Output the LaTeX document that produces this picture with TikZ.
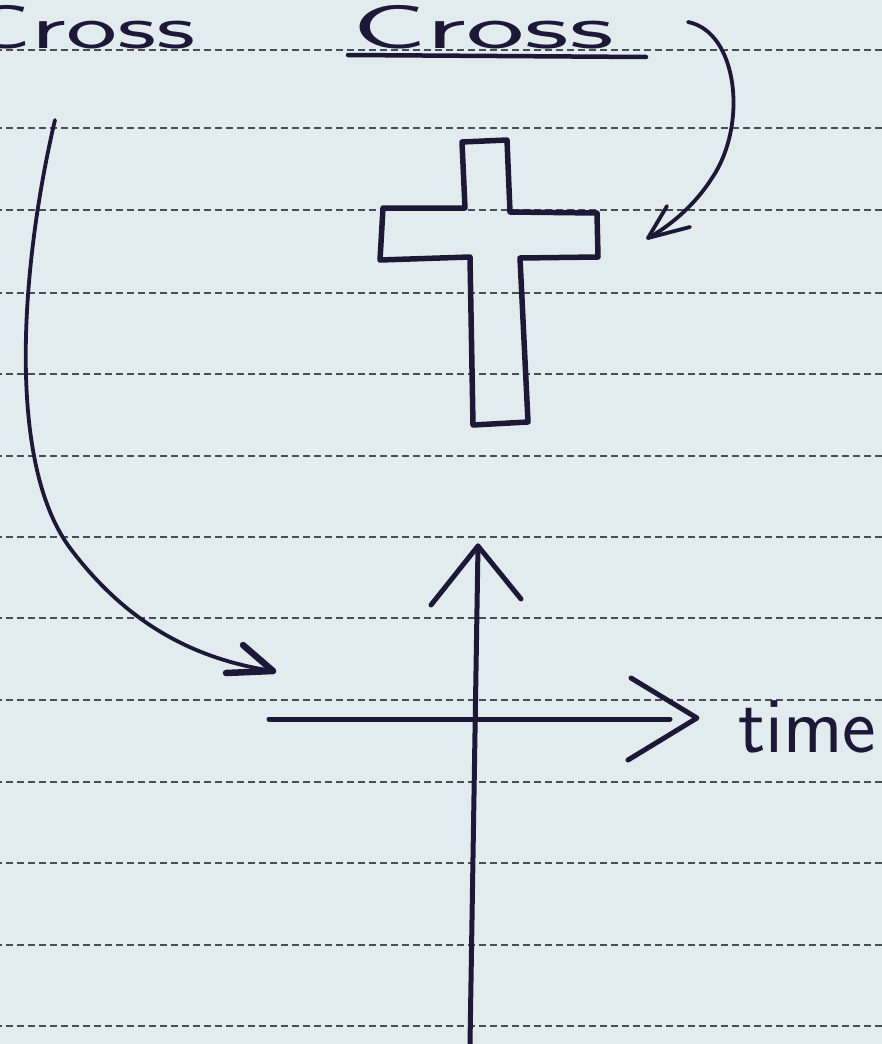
\documentclass[tikz,border=0pt]{standalone}
\definecolor{paper}{RGB}{226,236,238}
\definecolor{ink}{RGB}{30,24,56}
\definecolor{rulegray}{RGB}{70,78,90}
\begin{document}
\begin{tikzpicture}[x=1pt,y=-1pt,
  inkline/.style={draw=ink, line width=4.5pt, line cap=round, line join=round},
  ruleline/.style={draw=rulegray, line width=2.2pt, dash pattern=on 7pt off 4pt},
  hand/.style={text=ink, inner sep=0pt, text height=44pt, text depth=0pt, font=\sffamily\fontsize{62}{66}\selectfont},
  handtime/.style={text=ink, inner sep=0pt, font=\sffamily\fontsize{80}{84}\selectfont}]
\useasboundingbox (0,0) rectangle (882,1044);
\clip (0,0) rectangle (882,1044);
\fill[paper] (0,0) rectangle (882,1044);
\foreach \y in {50,128,210,293,374,456,537,618,700,782,863,945,1026}
  \draw[ruleline] (-5,\y) -- (890,\y);

% texts
\node[hand, anchor=base east, xscale=1.75] (crossL) at (196,48) {Cross};
\node[hand, anchor=base west, xscale=2.0] (crossR) at (352,48) {Cross};
\node[handtime, anchor=base west] (time) at (738,752) {time};

% underline
\coordinate (ul1) at (348,55);
\coordinate (ul2) at (646,57);
\draw[inkline] (ul1) -- (ul2);

% top-right curved arrow
\coordinate (trS) at (688,22);
\coordinate (trE) at (648,238);
\coordinate (trH1) at (690,227);
\coordinate (trH2) at (667,206);
\draw[inkline, line width=3.8pt] (trS) .. controls (738,32) and (748,125) .. (712,178) .. controls (695,205) and (670,226) .. (trE);
\draw[inkline, line width=3.8pt] (trH1) -- (trE) -- (trH2);

% cross shape
\draw[inkline, line width=5.5pt] (462,142) -- (507,140) -- (510,212) -- (597,213) -- (598,257) -- (520,258) -- (528,422) -- (473,425) -- (470,257) -- (380,260) -- (383,208) -- (465,208) -- cycle;

% left long curved arrow
\coordinate (laS) at (55,120);
\coordinate (laE) at (273,671);
\coordinate (laH1) at (243,645);
\coordinate (laH2) at (226,673);
\draw[inkline, line width=3.8pt] (laS) .. controls (22,260) and (5,460) .. (70,548) .. controls (130,628) and (200,660) .. (laE);
\draw[inkline, line width=6.5pt] (laH1) -- (laE) -- (laH2);

% axes
\coordinate (vB) at (470,1044);
\coordinate (vT) at (478,546);
\coordinate (vH1) at (431,605);
\coordinate (vH2) at (521,599);
\draw[inkline, line width=5pt] (vB) -- (vT);
\draw[inkline, line width=5pt] (vH1) -- (vT) -- (vH2);

\coordinate (hL) at (269,719);
\coordinate (hR) at (670,719);
\coordinate (hT) at (697,718);
\coordinate (hH1) at (631,678);
\coordinate (hH2) at (628,760);
\draw[inkline, line width=5pt] (hL) -- (hR);
\draw[inkline, line width=5pt] (hH1) -- (hT) -- (hH2);
\end{tikzpicture}
\end{document}
